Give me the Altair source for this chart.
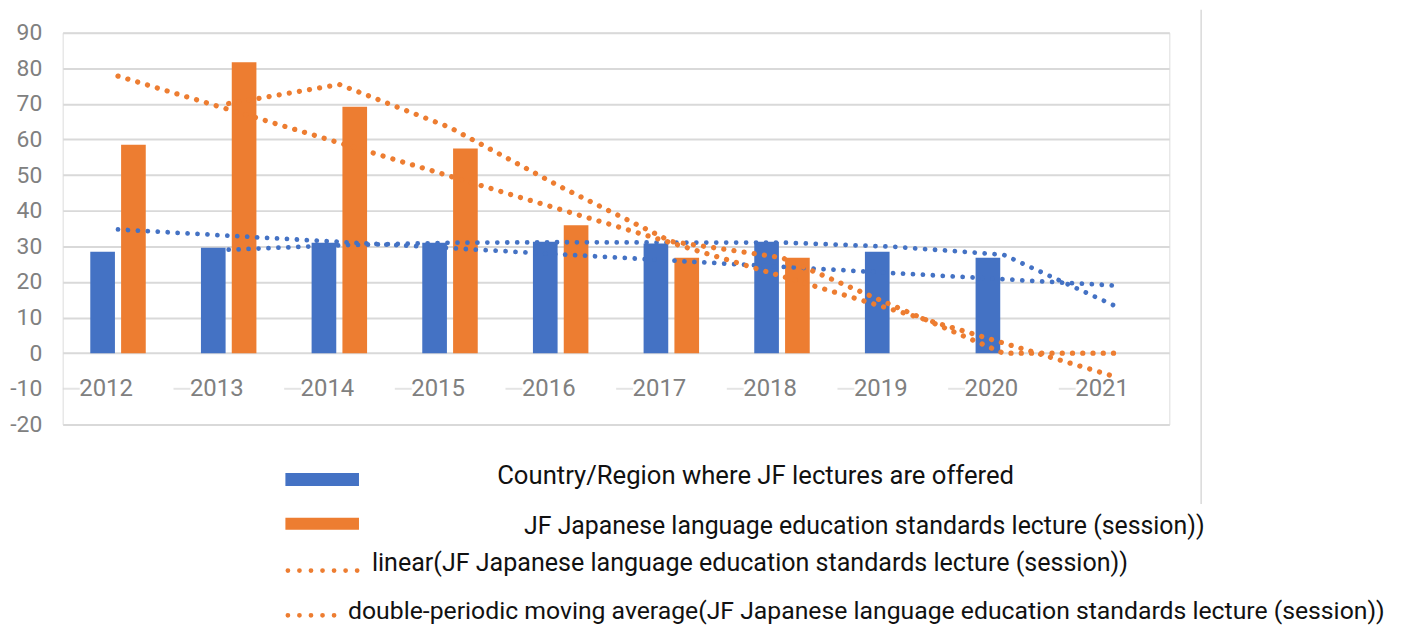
import altair as alt
import pandas as pd

# ---- data ----
years = [2012, 2013, 2014, 2015, 2016, 2017, 2018, 2019, 2020, 2021]
countries = [28.5, 29.6, 31, 31, 31.3, 30.8, 31.3, 28.5, 26.8, 0]
sessions = [58.5, 81.7, 69.2, 57.5, 35.9, 26.8, 26.8, 0, 0, 0]
y_ticks = [-20, -10, 0, 10, 20, 30, 40, 50, 60, 70, 80, 90]
series_names = ["countries", "sessions"]
legend_labels = [
    "Country/Region where JF lectures are offered",
    "JF Japanese language education standards lecture (session))",
    "linear(JF Japanese language education standards lecture (session))",
    "double-periodic moving average(JF Japanese language education standards lecture (session))",
]

BLUE = "#4472C4"
ORANGE = "#ED7D31"
GRAY = "#808080"
GRID = "#D9D9D9"
FONT = "Roboto"

df = pd.DataFrame({"Year": years, "countries": countries, "sessions": sessions})
base = alt.Chart(df)

X = alt.X("Year:O", scale=alt.Scale(paddingInner=0.443, paddingOuter=0.2215), axis=None)
yax = alt.Axis(
    values=y_ticks, title=None, domain=False, ticks=False, labelPadding=21,
    labelFontSize=23, labelColor=GRAY, labelFont=FONT,
    labelExpr="datum.value < 0 ? '-' + abs(datum.value) : datum.label",
    gridColor=GRID, gridWidth=2,
    gridOpacity={"condition": {"test": "datum.value === -10", "value": 0}, "value": 1},
)
ysc = alt.Scale(domain=[-20, 90], nice=False, zero=False)


def Y(field):
    return alt.Y(field, scale=ysc, axis=yax)


bars = base.transform_fold(series_names, as_=["series", "value"]).mark_bar().encode(
    x=X,
    xOffset=alt.XOffset("series:N", scale=alt.Scale(domain=series_names, paddingInner=0.2, paddingOuter=0.1)),
    y=Y("value:Q"),
    color=alt.Color("series:N", scale=alt.Scale(domain=series_names, range=[BLUE, ORANGE]), legend=None),
)


def dotted(color, width, gap):
    return dict(color=color, strokeWidth=width, strokeDash=[0.01, gap], strokeCap="round")


def linear_trend(field):
    # least-squares trend line evaluated at each year (Vega-Lite transforms)
    return base.transform_joinaggregate(
        mx="mean(Year)", my=f"mean({field})"
    ).transform_calculate(
        dxx="(datum.Year - datum.mx) * (datum.Year - datum.mx)",
        dxy=f"(datum.Year - datum.mx) * (datum['{field}'] - datum.my)",
    ).transform_joinaggregate(
        sxx="sum(dxx)", sxy="sum(dxy)"
    ).transform_calculate(
        fit="datum.my + datum.sxy / datum.sxx * (datum.Year - datum.mx)"
    )


def moving_avg(field):
    return base.transform_window(
        ma=f"mean({field})", rn="row_number()", frame=[-1, 0], sort=[alt.SortField("Year")]
    ).transform_filter("datum.rn > 1")


blue_lin = linear_trend("countries").mark_line(**dotted(BLUE, 4.8, 10)).encode(x=X, y=Y("fit:Q"))
blue_ma = moving_avg("countries").mark_line(**dotted(BLUE, 4.8, 10)).encode(x=X, y=Y("ma:Q"))
orange_lin = linear_trend("sessions").mark_line(**dotted(ORANGE, 5.3, 10.3)).encode(x=X, y=Y("fit:Q"))
orange_ma = moving_avg("sessions").mark_line(**dotted(ORANGE, 5.3, 10.3)).encode(x=X, y=Y("ma:Q"))

# x-axis labels sitting on the -10 line
dashes = base.mark_tick(color=GRID, thickness=2, size=17, xOffset=-47, orient="horizontal").encode(
    x=X, y=alt.Y(datum=-10, scale=ysc, axis=yax))
xlabels = base.transform_calculate(label="toString(datum.Year)").mark_text(
    fontSize=24, color=GRAY, font=FONT, dx=-12, baseline="middle").encode(
    x=X, y=alt.Y(datum=-10, scale=ysc, axis=yax), text="label:N")

# ---- custom legend ----
one = pd.DataFrame({"k": [0]})
sw_blue = alt.Chart(one).mark_rect(color=BLUE).encode(
    x=alt.value(224), x2=alt.value(298), y=alt.value(443), y2=alt.value(456))
sw_orange = alt.Chart(one).mark_rect(color=ORANGE).encode(
    x=alt.value(224), x2=alt.value(298), y=alt.value(488), y2=alt.value(500))
sw_lin = alt.Chart(one).mark_rule(**dotted(ORANGE, 4.8, 11.6)).encode(
    x=alt.value(226.5), x2=alt.value(297), y=alt.value(541))
sw_ma = alt.Chart(one).mark_rule(**dotted(ORANGE, 4.8, 11.6)).encode(
    x=alt.value(226.5), x2=alt.value(274), y=alt.value(586))

leg_pos = [(437, 454), (464, 504), (311, 541), (287, 590)]
leg_sizes = [25.8, 25, 25.2, 24.9]
leg_texts = []
for lab, (lx, ly), fs in zip(legend_labels, leg_pos, leg_sizes):
    leg_texts.append(
        alt.Chart(pd.DataFrame({"t": [lab]})).mark_text(
            align="left", baseline="alphabetic", fontSize=fs, font=FONT, color="#111111"
        ).encode(text="t:N", x=alt.value(lx), y=alt.value(ly))
    )

frame_line = alt.Chart(one).mark_rule(color=GRID, strokeWidth=1.5).encode(
    x=alt.value(1145), y=alt.value(-23), y2=alt.value(474))

chart = alt.layer(
    bars, blue_lin, blue_ma, orange_lin, orange_ma, dashes, xlabels,
    sw_blue, sw_orange, sw_lin, sw_ma, *leg_texts, frame_line,
).properties(
    width=1113, height=394,
    padding={"left": 55, "top": 23, "right": 230, "bottom": 206},
    autosize=alt.AutoSizeParams(type="none"),
).configure_view(stroke=None).configure(background="white")

chart.save("out.html", embed_options={"renderer": "svg", "actions": False})
